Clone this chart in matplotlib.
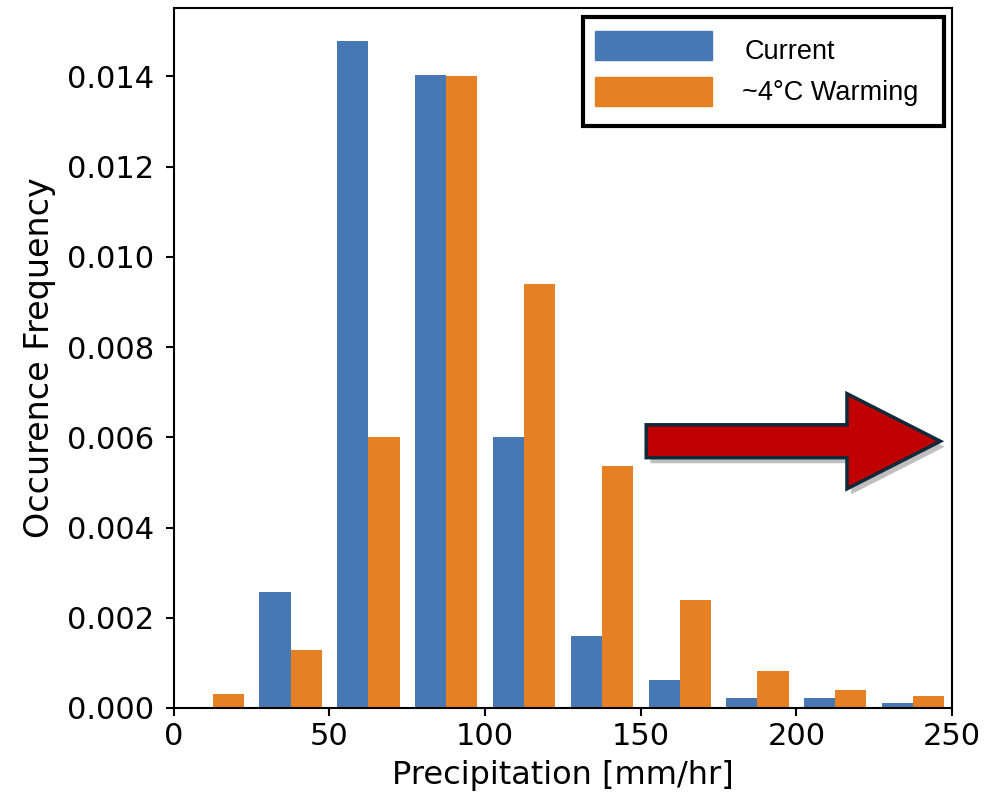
import numpy as np
import matplotlib.pyplot as plt
from matplotlib.patches import Rectangle, FancyArrow
import matplotlib.patheffects as pe

# histogram bins (mm/hr) and occurrence frequency per bin
bin_edges = [0, 25, 50, 75, 100, 125, 150, 175, 200, 225, 250]
current = [0.0, 0.00256, 0.01478, 0.01404, 0.0060, 0.0016, 0.00062, 0.00022, 0.00022, 0.0001]
warming = [0.00031, 0.00129, 0.0060, 0.0140, 0.0094, 0.00536, 0.0024, 0.00082, 0.0004, 0.00027]
labels = ["Current", "~4°C Warming"]

blue = "#4878b4"
orange = "#e58025"

fig = plt.figure(figsize=(9.99, 7.99), dpi=100)
ax = fig.add_axes([0.174, 0.114, 0.779, 0.876])

edges = np.array(bin_edges, dtype=float)
bw = np.diff(edges)
left = edges[:-1]
# same layout as plt.hist with two datasets (rwidth 0.8, split in two)
ax.bar(left + 0.1 * bw, current, width=0.4 * bw, align="edge", color=blue)
ax.bar(left + 0.5 * bw, warming, width=0.4 * bw, align="edge", color=orange)

ax.set_xlim(0, 250)
ax.set_ylim(0, max(current) * 1.05)
ax.set_yticks(np.arange(0, 0.0141, 0.002))
ax.yaxis.set_major_formatter(plt.FormatStrFormatter("%.3f"))
ax.tick_params(axis="y", labelsize=22, width=1.5, length=6, pad=8)
ax.tick_params(axis="x", labelsize=22, width=1.5, length=5.5, pad=5)
for s in ax.spines.values():
    s.set_linewidth(1.5)
ax.set_xlabel("Precipitation [mm/hr]", fontsize=23, labelpad=6)
ax.set_ylabel("Occurence Frequency", fontsize=24, labelpad=8)

# legend box drawn by hand
tr = ax.transAxes
ax.add_patch(Rectangle((0.526, 0.832), 0.464, 0.155, transform=tr, fill=False,
                       edgecolor="black", linewidth=3, clip_on=False, zorder=5))
ax.add_patch(Rectangle((0.541, 0.926), 0.151, 0.041, transform=tr, color=blue,
                       clip_on=False, zorder=5))
ax.add_patch(Rectangle((0.541, 0.860), 0.151, 0.041, transform=tr, color=orange,
                       clip_on=False, zorder=5))
ax.text(0.733, 0.927, labels[0], transform=tr, fontsize=19.5, va="baseline",
        family="Liberation Sans", zorder=6)
ax.text(0.730, 0.869, labels[1], transform=tr, fontsize=19.5, va="baseline",
        family="Liberation Sans", zorder=6)

# red arrow
arrow = FancyArrow(0.607, 0.381, 0.378, 0.0, width=0.047, head_width=0.136,
                   head_length=0.12, length_includes_head=True, transform=tr,
                   facecolor="#c00000", edgecolor="#0f2a3a", linewidth=2.5,
                   zorder=6, clip_on=False)
arrow.set_path_effects([pe.SimplePatchShadow(offset=(3, -4), shadow_rgbFace="k", alpha=0.25),
                        pe.Normal()])
ax.add_patch(arrow)

fig.savefig("out.png", dpi=100)
